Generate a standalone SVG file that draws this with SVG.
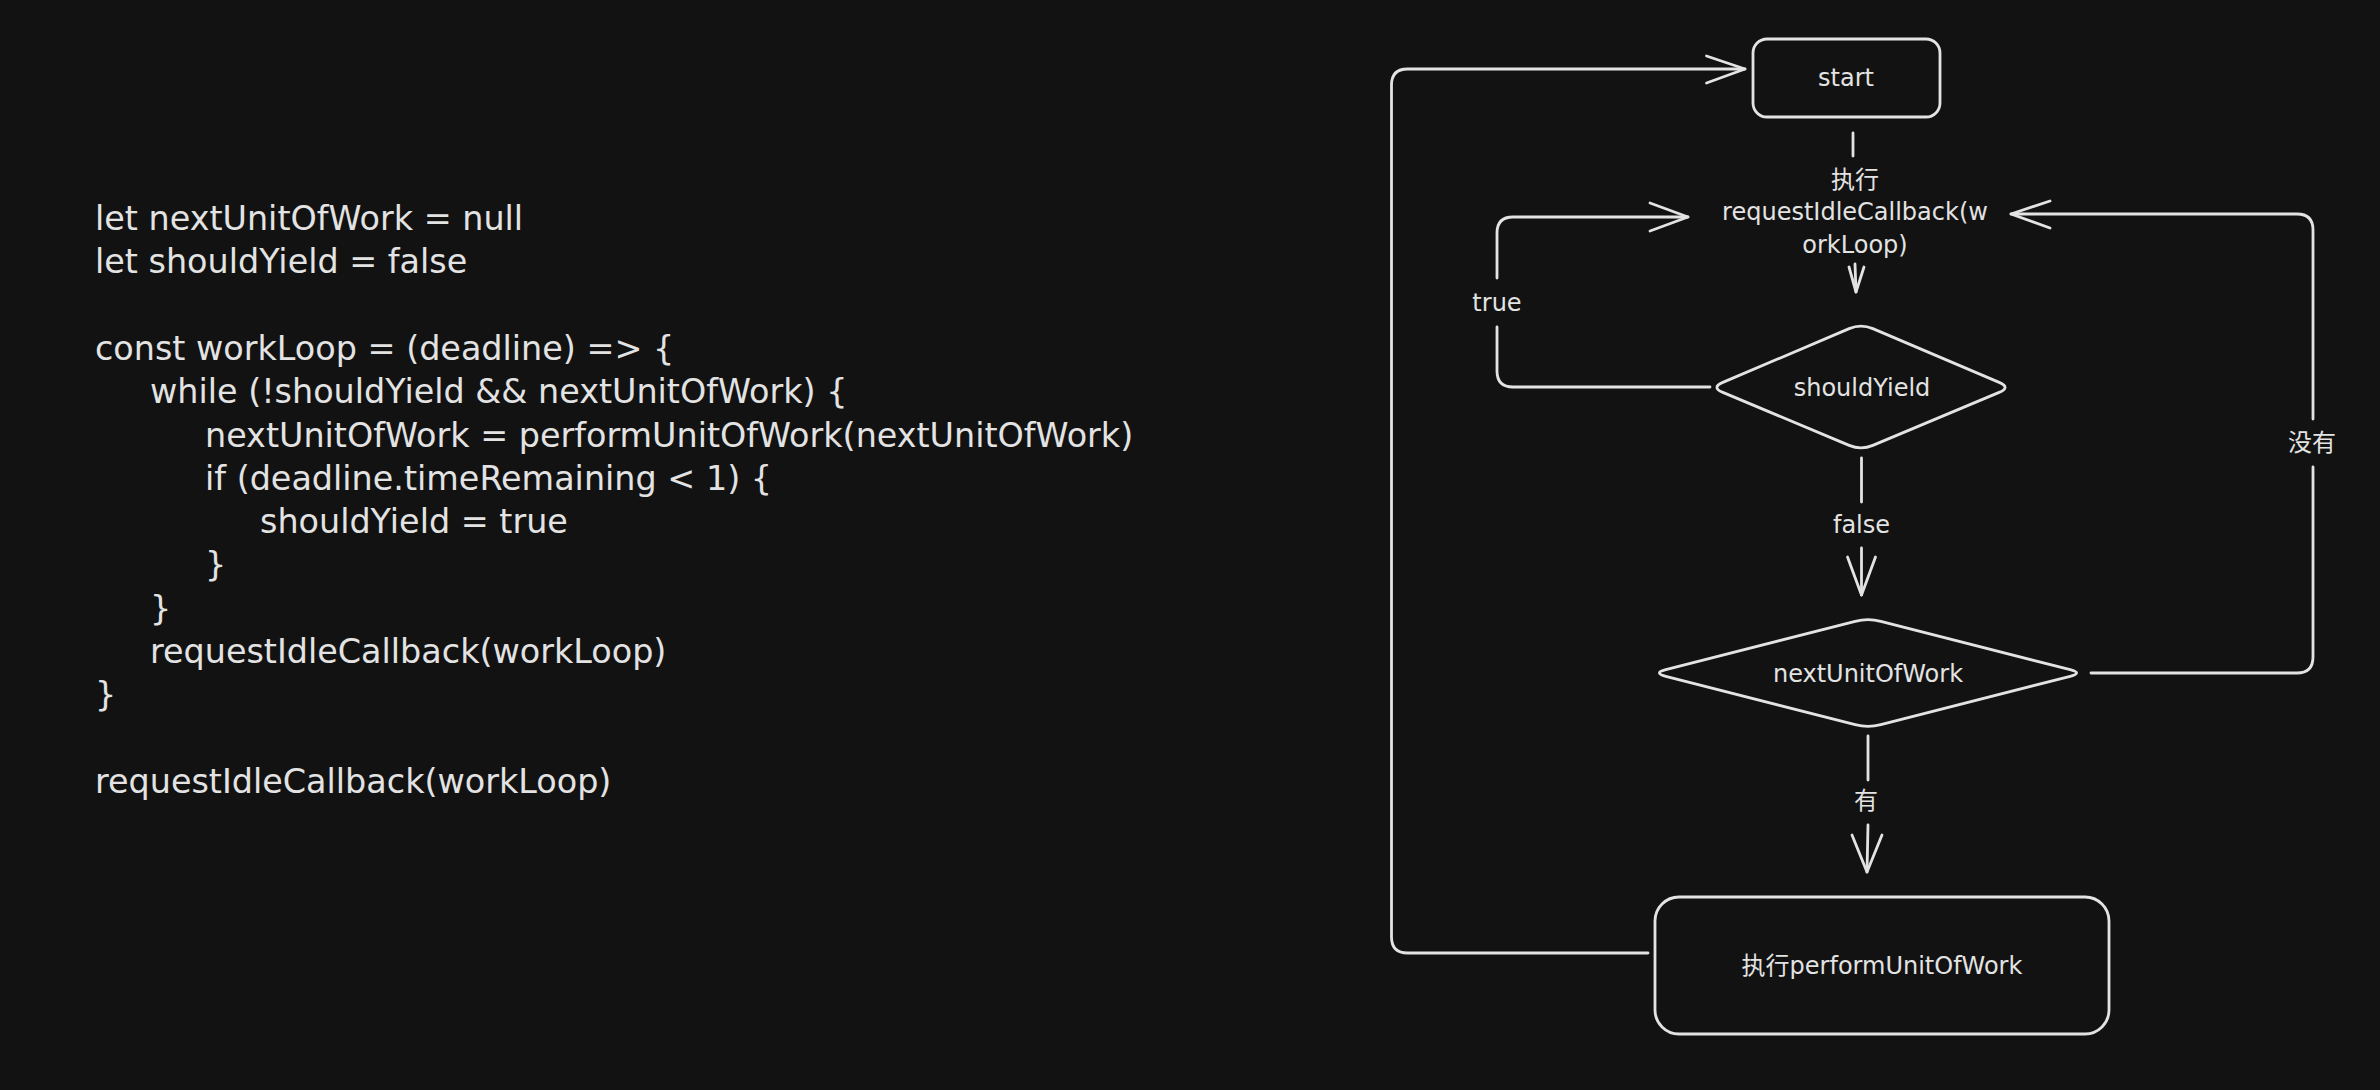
<svg xmlns="http://www.w3.org/2000/svg" width="2380" height="1090" viewBox="0 0 2380 1090">
<style>
.code{font-family:"DejaVu Sans","Noto Sans CJK SC",sans-serif;font-size:33.4px;fill:#e3e3e3}
.lbl{font-family:"DejaVu Sans","Noto Sans CJK SC",sans-serif;font-size:24px;fill:#e3e3e3;text-anchor:middle}
.shape{fill:none;stroke:#e3e3e3;stroke-width:2.8;stroke-linejoin:round}
.ln{fill:none;stroke:#e3e3e3;stroke-width:2.8;stroke-linecap:round;stroke-linejoin:round}
</style>
<rect x="0" y="0" width="2380" height="1090" fill="#121212"/>
<g id="code">
<text class="code" x="95" y="230">let nextUnitOfWork = null</text>
<text class="code" x="95" y="273.3">let shouldYield = false</text>
<text class="code" x="95" y="359.9">const workLoop = (deadline) =&gt; {</text>
<text class="code" x="150" y="403.2">while (!shouldYield &amp;&amp; nextUnitOfWork) {</text>
<text class="code" x="205" y="446.5">nextUnitOfWork = performUnitOfWork(nextUnitOfWork)</text>
<text class="code" x="205" y="489.8">if (deadline.timeRemaining &lt; 1) {</text>
<text class="code" x="260" y="533.1">shouldYield = true</text>
<text class="code" x="205" y="576.4">}</text>
<text class="code" x="150" y="619.7">}</text>
<text class="code" x="150" y="663">requestIdleCallback(workLoop)</text>
<text class="code" x="95" y="706.3">}</text>
<text class="code" x="95" y="792.9">requestIdleCallback(workLoop)</text>
</g>
<g id="connectors">
<path class="ln" d="M1853,133 L1853,156"/>
<path class="ln" d="M1855,264 L1856,292"/>
<path class="ln" d="M1849,267 L1856,292 L1864,267"/>
<path class="ln" d="M1710,387 L1513,387 Q1497,387 1497,371 L1497,327"/>
<path class="ln" d="M1497,278 L1497,233 Q1497,217 1513,217 L1688,217"/>
<path class="ln" d="M1650,203 L1688,217 L1650,231"/>
<path class="ln" d="M1861.5,458 L1861.5,502"/>
<path class="ln" d="M1861.5,548 L1861.5,595"/>
<path class="ln" d="M1847.5,557 L1861.5,595 L1875.5,557"/>
<path class="ln" d="M2091,673 L2297,673 Q2313,673 2313,657 L2313,467"/>
<path class="ln" d="M2313,419 L2313,230 Q2313,214 2297,214 L2011,214"/>
<path class="ln" d="M2050,201 L2011,214 L2050,228"/>
<path class="ln" d="M1868,736 L1868,780"/>
<path class="ln" d="M1868,825 L1867,872"/>
<path class="ln" d="M1852,835 L1867,872 L1882,835"/>
<path class="ln" d="M1648,953 L1407.5,953 Q1391.5,953 1391.5,937 L1391.5,85 Q1391.5,69 1407.5,69 L1745,69"/>
<path class="ln" d="M1706.5,56 L1745,69 L1706.5,83"/>
</g>
<g id="labels">
<text class="lbl" x="1855" y="187.5">执行</text>
<text class="lbl" x="1855" y="220">requestIdleCallback(w</text>
<text class="lbl" x="1855" y="252.5">orkLoop)</text>
<text class="lbl" x="1497" y="310.5">true</text>
<text class="lbl" x="1861.5" y="532.5">false</text>
<text class="lbl" x="2312" y="450.5">没有</text>
<text class="lbl" x="1866" y="808.5">有</text>
</g>
<g id="node-start">
<rect class="shape" x="1753" y="39" width="187" height="78" rx="14"/>
<text class="lbl" x="1846" y="85.5">start</text>
</g>
<g id="node-shouldYield">
<path class="shape" d="M1872.84,328.6 L1999.16,382.4 Q2011,387.4 1999.16,392.4 L1872.84,445.4 Q1861,450.4 1849.16,445.4 L1722.84,392.4 Q1711,387.4 1722.84,382.4 L1849.16,328.6 Q1861,323.6 1872.84,328.6 Z"/>
<text class="lbl" x="1862" y="395.5">shouldYield</text>
</g>
<g id="node-nextUnitOfWork">
<path class="shape" d="M1880.84,621.3 L2070.16,669.7 Q2083,673 2070.16,676.3 L1880.84,724.7 Q1868,728 1855.16,724.7 L1665.84,676.3 Q1653,673 1665.84,669.7 L1855.16,621.3 Q1868,618 1880.84,621.3 Z"/>
<text class="lbl" x="1868" y="681.5">nextUnitOfWork</text>
</g>
<g id="node-perform">
<rect class="shape" x="1655" y="897" width="454" height="137" rx="24"/>
<text class="lbl" x="1882" y="973.5">执行performUnitOfWork</text>
</g>
</svg>
